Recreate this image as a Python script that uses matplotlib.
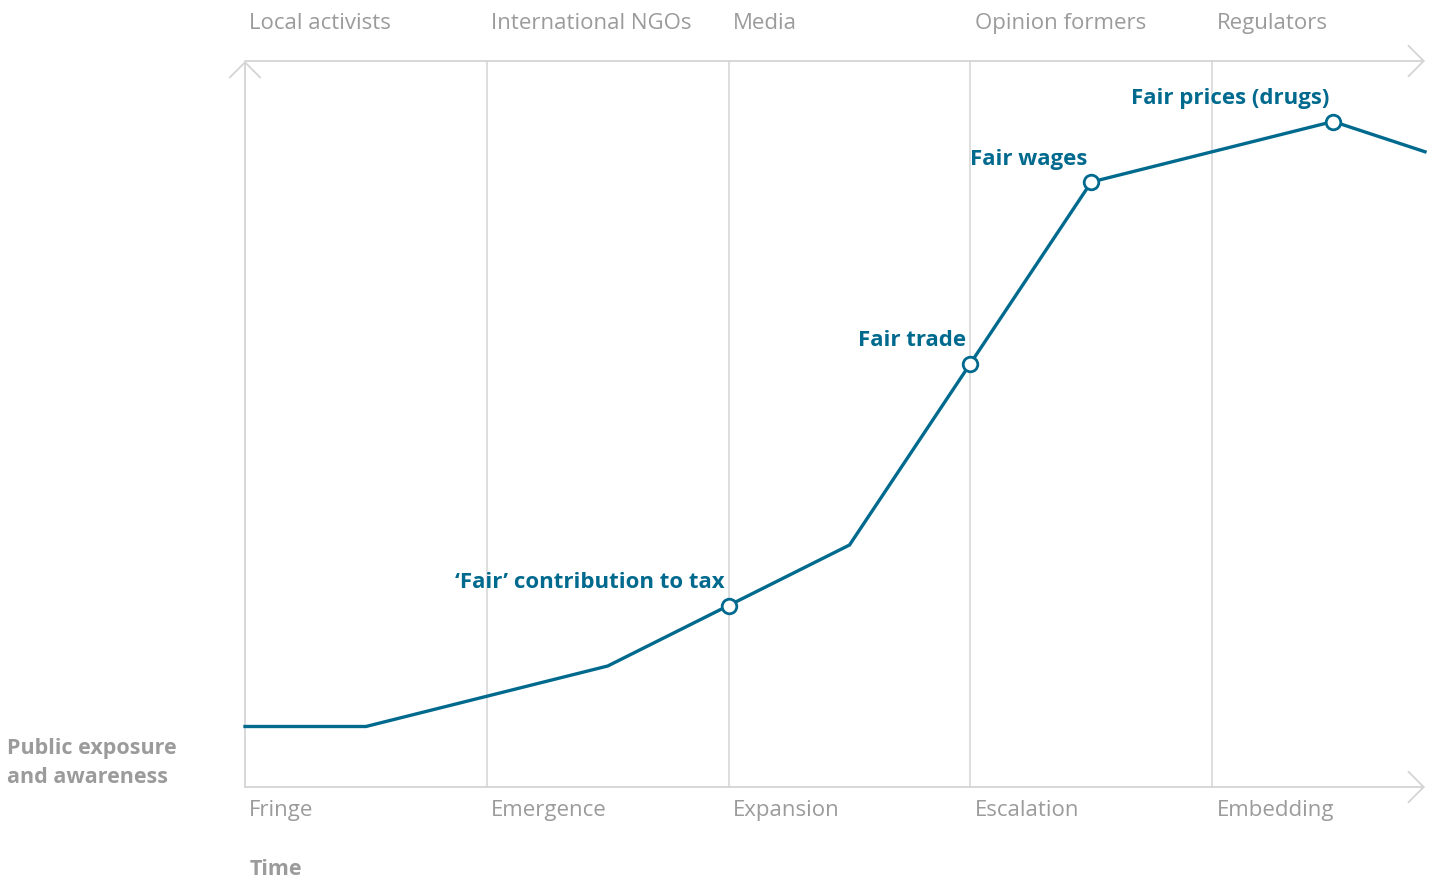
import matplotlib
matplotlib.use("Agg")
import matplotlib.pyplot as plt

# ---- data ----
stages = ["Fringe", "Emergence", "Expansion", "Escalation", "Embedding"]
actors = ["Local activists", "International NGOs", "Media", "Opinion formers", "Regulators"]
curve_x = [0, 0.5, 1, 1.5, 2, 2.5, 3, 3.5, 4, 4.5, 4.88]
curve_y = [1, 1, 1.5, 2, 3, 4, 7, 10, 10.5, 11, 10.5]
event_labels = ["\u2018Fair\u2019 contribution to tax", "Fair trade", "Fair wages", "Fair prices (drugs)"]
event_x = [2, 3, 3.5, 4.5]
event_y = [3, 7, 10, 11]

BLUE = "#006a8e"
GRID = "#d4d4d4"
TXT = "#9b9b9b"
FONT = ["Open Sans", "DejaVu Sans"]

W, H = 1437, 879
fig = plt.figure(figsize=(W / 100, H / 100), dpi=100)
ax = fig.add_axes([245 / W, (H - 788) / H, 1180 / W, 726 / H])
xmax, ymax = 4.88, 12
ax.set_xlim(0, xmax)
ax.set_ylim(0, ymax)
ax.axis("off")

# stage gridlines
for i in range(1, len(stages)):
    ax.plot([i, i], [0, ymax], color=GRID, lw=1.1, zorder=1)

# axes with arrows
aprops = dict(arrowstyle="->,head_length=0.55,head_width=0.55", color=GRID, lw=1.3,
              mutation_scale=20, shrinkA=0, shrinkB=0)
ax.annotate("", xy=(xmax, 0), xytext=(0, 0), arrowprops=aprops, annotation_clip=False)
ax.annotate("", xy=(xmax, ymax), xytext=(0, ymax), arrowprops=aprops, annotation_clip=False)
ax.annotate("", xy=(0, ymax), xytext=(0, 0), arrowprops=aprops, annotation_clip=False)

# curve
ax.plot(curve_x, curve_y, color=BLUE, lw=2.4, zorder=3, solid_joinstyle="miter", clip_on=False)
ax.plot(event_x, event_y, ls="none", marker="o", ms=10.5, mfc="white", mec=BLUE, mew=2.0,
        zorder=4, clip_on=False)
for lab, x, y in zip(event_labels, event_x, event_y):
    ax.annotate(lab, xy=(x, y), xytext=(-3, 17), textcoords="offset points",
                ha="right", va="center", color=BLUE, fontsize=16, fontweight="bold",
                family=FONT)

# stage labels (bottom) and actor labels (top)
for i, s in enumerate(stages):
    ax.annotate(s, xy=(i, 0), xytext=(3, -16), textcoords="offset points",
                ha="left", va="center", color=TXT, fontsize=16, family=FONT,
                annotation_clip=False)
for i, a in enumerate(actors):
    ax.annotate(a, xy=(i, ymax), xytext=(3, 27.5), textcoords="offset points",
                ha="left", va="center", color=TXT, fontsize=16, family=FONT,
                annotation_clip=False)

ax.annotate("Time", xy=(0, 0), xytext=(3, -58.5), textcoords="offset points",
            ha="left", va="center", color=TXT, fontsize=15.5, fontweight="bold", family=FONT,
            annotation_clip=False)
fig.text(7 / W, 1 - 763 / H, "Public exposure\nand awareness", ha="left", va="center",
         color=TXT, fontsize=15.5, fontweight="bold", family=FONT, linespacing=1.55)

fig.savefig("out.png", dpi=100)
